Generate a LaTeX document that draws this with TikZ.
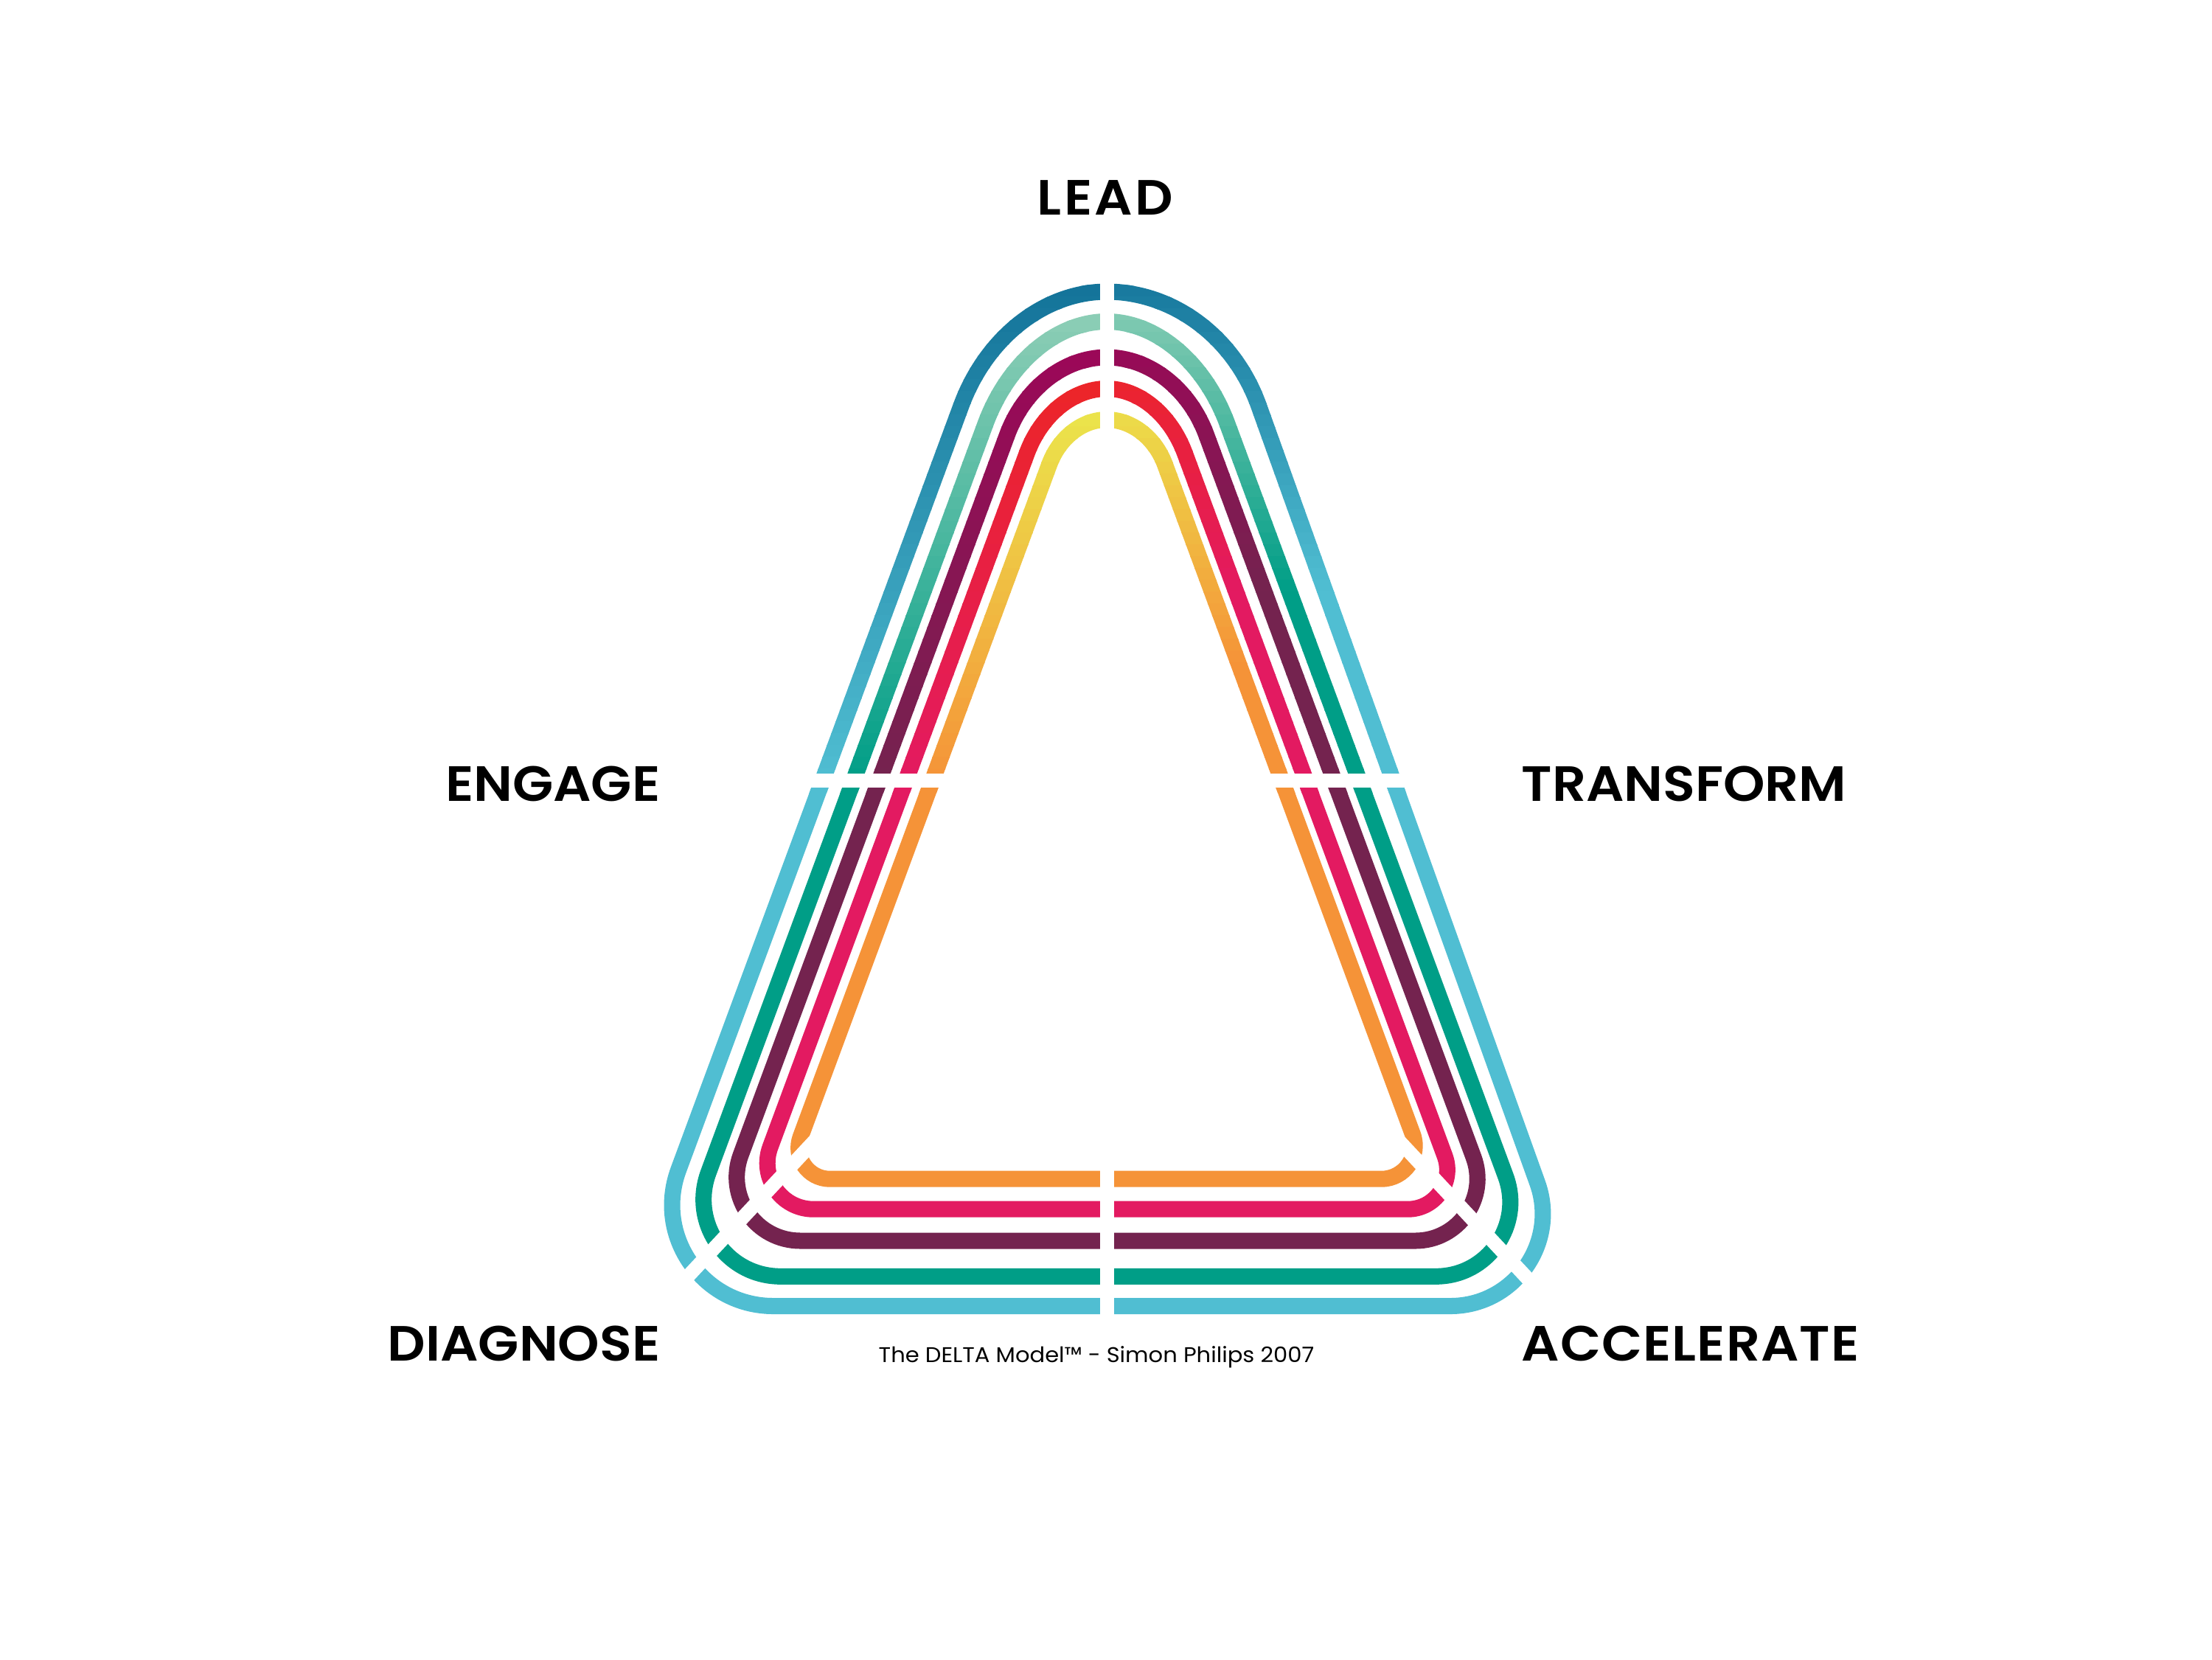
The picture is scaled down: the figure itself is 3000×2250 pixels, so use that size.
\documentclass[tikz,border=0pt]{standalone}
\usepackage{fontspec}
\setmainfont{Poppins}
\definecolor{bluedark}{HTML}{14749A}
\definecolor{bluelight}{HTML}{50BED2}
\definecolor{greenlight}{HTML}{8BCDB5}
\definecolor{greendark}{HTML}{009E87}
\definecolor{magentatop}{HTML}{9B0858}
\definecolor{plum}{HTML}{74234F}
\definecolor{redtop}{HTML}{EC2529}
\definecolor{pinkrose}{HTML}{E31A61}
\definecolor{yellowtop}{HTML}{EBE34B}
\definecolor{orangeend}{HTML}{F59338}
% #1 top y, #2 y where the arch meets the leg, #3 leg x at y=1049, #4 bottom y, #5 corner trim, #6 leg slope
\newcommand\RingGeom[6]{%
 \pgfmathsetmacro\ya{#1}\pgfmathsetmacro\yT{#2}\pgfmathsetmacro\xg{#3}\pgfmathsetmacro\yb{#4}\pgfmathsetmacro\tr{#5}\pgfmathsetmacro\kk{#6}%
 \pgfmathsetmacro\xA{\xg+\kk*(1049-\ya)}%
 \pgfmathsetmacro\xT{\xg+\kk*(1049-\yT)}%
 \pgfmathsetmacro\xB{\xg-\kk*(\yb-1049)}%
 \pgfmathsetmacro\yL{\yb-\tr*0.9378}%
 \pgfmathsetmacro\xL{\xg-\kk*(\yL-1049)}%
 \pgfmathsetmacro\xH{\xB+\tr}%
 \pgfmathsetmacro\caX{1501+0.6*(\xA-1501)}%
 \pgfmathsetmacro\cbX{\xT+0.6*(\xA-\xT)}%
 \pgfmathsetmacro\cbY{\yT+0.6*(\ya-\yT)}%
 \pgfmathsetmacro\ccX{\xL+0.486*(\xB-\xL)}%
 \pgfmathsetmacro\ccY{\yL+0.486*(\yb-\yL)}%
 \pgfmathsetmacro\cdX{\xH+0.486*(\xB-\xH)}%
}
\newcommand\HalfPath{(1501,\ya) .. controls (\caX,\ya) and (\cbX,\cbY) .. (\xT,\yT) -- (\xL,\yL) .. controls (\ccX,\ccY) and (\cdX,\yb) .. (\xH,\yb) -- (1501,\yb)}
\newcommand\HalfRing[2]{%
 \foreach \yy in {370,386,...,1058}{%
  \pgfmathsetmacro\pc{100*max(0,min(1,(\yy+8-(#1))/((#2)-(#1))))}%
  \begin{scope}
   \clip (-100,\yy) rectangle (3100,\yy+17);
   \draw[ringline,draw={ringend!\pc!ringtop}] \HalfPath;
  \end{scope}}%
 \begin{scope}
  \clip (-100,1058) rectangle (3100,1900);
  \draw[ringline,draw=ringend] \HalfPath;
 \end{scope}}
% #1 top y, #2 arch end y, #3 left leg x, #4 mirrored right leg x, #5 bottom y, #6 left trim, #7 right trim, #8 right gradient end
\newcommand\RingPair[8]{%
 \RingGeom{#1}{#2}{#3}{#5}{#6}{0.37}%
 \HalfRing{\ya}{1060}%
 \begin{scope}[shift={(3002,0)},xscale=-1]
  \RingGeom{#1}{#2}{#4}{#5}{#7}{\rightslope}%
  \HalfRing{\ya-40}{#8}%
 \end{scope}}
\def\rightslope{0.37}
\newfontfamily\labelfont{Poppins SemiBold}[FakeStretch=1.07]
\newfontfamily\creditfont{Poppins}[FakeStretch=1.06]
\tikzset{
 ringline/.style={line width=0.22cm,line join=round},
 gapline/.style={draw=white,line width=0.19cm},
 stagelabel/.style={inner sep=0pt,font=\fontsize{19.1}{19.1}\labelfont},
 creditlabel/.style={inner sep=0pt,font=\fontsize{8.2}{8.2}\creditfont}
}
\begin{document}
\begin{tikzpicture}[x=0.01cm,y=-0.01cm]
\useasboundingbox (0,0) rectangle (3000,2250);
\fill[white] (0,0) rectangle (3000,2250);
\colorlet{ringtop}{bluedark}\colorlet{ringend}{bluelight}
\def\rightslope{0.3586}
\RingPair{395.5}{550}{1119}{1116}{1771}{197}{178}{800}
\def\rightslope{0.37}
\colorlet{ringtop}{greenlight}\colorlet{ringend}{greendark}
\RingPair{436}{575}{1161}{1162}{1730.8}{150}{145}{800}
\colorlet{ringtop}{magentatop}\colorlet{ringend}{plum}
\RingPair{484.5}{590}{1196}{1196}{1682.5}{124}{121}{800}
\colorlet{ringtop}{redtop}\colorlet{ringend}{pinkrose}
\RingPair{527}{615}{1232}{1234.4}{1639.7}{90}{77}{800}
\colorlet{ringtop}{yellowtop}\colorlet{ringend}{orangeend}
\RingPair{569}{630}{1268}{1267}{1598.7}{61}{65}{900}
\draw[gapline] (1501,370) -- (1501,640);
\draw[gapline] (1501,1585) -- (1501,1790);
\draw[gapline] (1085,1058.5) -- (1915,1058.5);
\draw[gapline] (914,1751) -- (1115,1536);
\draw[gapline] (2088,1751) -- (1887,1536);
\node[stagelabel,anchor=base] (lead) at (1499,291) {\addfontfeature{LetterSpace=5}LEAD};
\node[stagelabel,anchor=base east] (engage) at (896,1086) {ENGAGE};
\node[stagelabel,anchor=base west] (transform) at (2063,1086) {TRANSFORM};
\node[stagelabel,anchor=base east] (diagnose) at (896,1845) {DIAGNOSE};
\node[stagelabel,anchor=base west] (accelerate) at (2063,1845) {\addfontfeature{LetterSpace=1.5}ACCELERATE};
\node[creditlabel,anchor=base west] (credit) at (1191,1847) {The DELTA Model™ - Simon Philips 2007};
\end{tikzpicture}
\end{document}
